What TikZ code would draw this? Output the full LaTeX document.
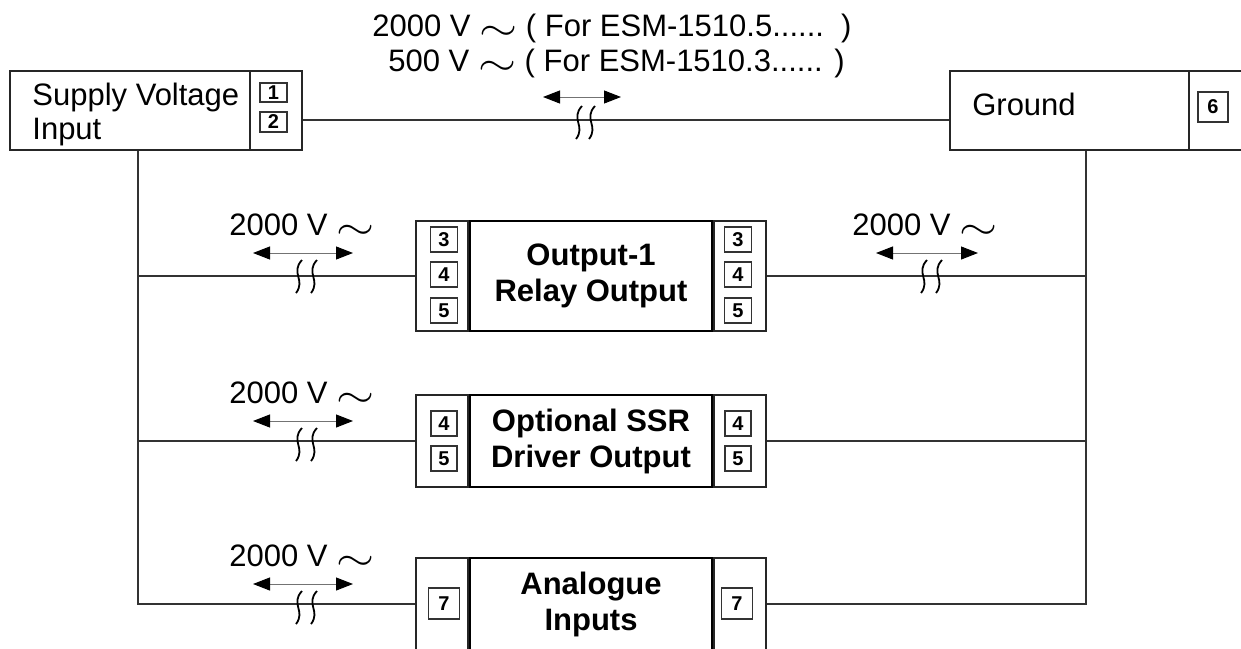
\documentclass[tikz,border=0pt]{standalone}
\usepackage{fontspec}
\setmainfont{Liberation Sans}
\usetikzlibrary{arrows.meta,positioning}

\newcommand\acsign{\raisebox{-2.2pt}{\scalebox{1.7}[1.35]{$\sim$}}}

\tikzset{
  mainbox/.style={draw=black!85, line width=1pt, minimum height=39.5pt, inner sep=0pt},
  termcol/.style={draw=black!85, line width=1pt, minimum width=26pt, inner sep=0pt},
  body/.style={draw, line width=1pt, minimum width=121pt, inner sep=0pt, align=center,
    font=\bfseries\fontsize{15.5pt}{18pt}\selectfont},
  term/.style={draw=black!80, line width=0.6pt, inner sep=0pt,
    font=\bfseries\fontsize{10pt}{10pt}\selectfont},
  wire/.style={draw=black!80, line width=0.75pt},
  iso/.style={{Triangle[length=8.5pt,width=6.5pt,color=black]}-{Triangle[length=8.5pt,width=6.5pt,color=black]},
    draw=black!55, line width=0.5pt},
  wave/.style={line width=0.9pt},
  lbl/.style={font=\fontsize{15.5pt}{17pt}\selectfont, inner sep=0pt},
}

\begin{document}
\begin{tikzpicture}[x=0.5pt, y=-0.5pt]
  \useasboundingbox (0,0) rectangle (1241,648);
  \clip (0,0) rectangle (1241,648);

  % supply and ground
  \node[mainbox, minimum width=120pt, anchor=north west] (supply) at (9,70) {};
  \node[termcol, minimum height=39.5pt, anchor=north west] (supplyt) at (249,70) {};
  \node[lbl, anchor=west, align=left] (supplytxt) at (32,114) {Supply Voltage\\Input};
  \node[term, minimum width=13.5pt, minimum height=9.5pt] (t1) at (273.5,92.5) {1};
  \node[term, minimum width=13.5pt, minimum height=10pt] (t2) at (273.5,122) {2};

  \node[mainbox, minimum width=119.5pt, anchor=north west] (ground) at (949,70) {};
  \node[termcol, minimum width=40pt, minimum height=39.5pt, anchor=north west] (groundt) at (1188,70) {};
  \node[lbl] (groundtxt) at (1024,104) {Ground};
  \node[term, minimum width=15pt, minimum height=15pt] (t6) at (1213,107) {6};

  % the three modules
  \node[body, minimum height=55pt] (out1) at (591,276) {Output-1\\Relay Output};
  \node[termcol, minimum height=55pt, left=0pt of out1] (out1l) {};
  \node[termcol, minimum height=55pt, right=0pt of out1] (out1r) {};
  \foreach \yy/\tn [count=\i] in {239.5/3,274.5/4,310.5/5} {
    \node[term, minimum width=13.5pt, minimum height=12.5pt] (o1l\i) at (444,\yy) {\tn};
    \node[term, minimum width=13.5pt, minimum height=12.5pt] (o1r\i) at (738,\yy) {\tn};
  }

  \node[body, minimum height=46pt] (ssr) at (591,441) {Optional SSR\\Driver Output};
  \node[termcol, minimum height=46pt, left=0pt of ssr] (ssrl) {};
  \node[termcol, minimum height=46pt, right=0pt of ssr] (ssrr) {};
  \foreach \yy/\tn [count=\i] in {423.5/4,458.5/5} {
    \node[term, minimum width=13pt, minimum height=12.5pt] (sl\i) at (444,\yy) {\tn};
    \node[term, minimum width=13pt, minimum height=12.5pt] (sr\i) at (738,\yy) {\tn};
  }

  \node[body, minimum height=46pt] (ana) at (591,604) {Analogue\\Inputs};
  \node[termcol, minimum height=46pt, left=0pt of ana] (anal) {};
  \node[termcol, minimum height=46pt, right=0pt of ana] (anar) {};
  \node[term, minimum width=15.5pt, minimum height=15.5pt] (al1) at (444,603.5) {7};
  \node[term, minimum width=15.5pt, minimum height=15.5pt] (ar1) at (737,603.5) {7};

  % wiring
  \draw[wire] ([yshift=-4.75pt]supplyt.east) -- ([yshift=-4.75pt]ground.west);
  \coordinate (lbus) at ([xshift=4pt]supply.south);
  \coordinate (rbus) at ([xshift=8.25pt]ground.south);
  \draw[wire] (lbus) |- (anal.west);
  \draw[wire] (lbus |- out1l.west) -- (out1l.west);
  \draw[wire] (lbus |- ssrl.west) -- (ssrl.west);
  \draw[wire] (rbus) |- (anar.east);
  \draw[wire] (rbus |- out1r.east) -- (out1r.east);
  \draw[wire] (rbus |- ssrr.east) -- (ssrr.east);

  % isolation marks
  \node[lbl, anchor=base west] (top1) at (372,36) {2000 V \acsign{} ( For ESM-1510.5......\ \ )};
  \node[lbl, anchor=base west] (top2) at (388,71) {500 V \acsign{} ( For ESM-1510.3...... )};
  \coordinate (ta) at (543,97);
  \coordinate (tb) at (621,97);
  \draw[iso] (ta) -- (tb);
  \draw[wave] (582,106) .. controls (570,119) and (586,126) .. (576,139);
  \draw[wave] (595,106) .. controls (583,119) and (599,126) .. (589,139);

  \foreach \yy/\nm in {273/a,441/b,604/c} {
    \node[lbl, anchor=base west] (v\nm) at (229,\yy-38) {2000 V \acsign};
    \coordinate (\nm1) at (253,\yy-20);
    \coordinate (\nm2) at (353,\yy-20);
    \draw[iso] (\nm1) -- (\nm2);
    \draw[wave] (302,\yy-13) .. controls (290,\yy) and (306,\yy+7) .. (296,\yy+20);
    \draw[wave] (317,\yy-13) .. controls (305,\yy) and (321,\yy+7) .. (311,\yy+20);
  }

  \node[lbl, anchor=base west] (vr) at (852,235) {2000 V \acsign};
  \coordinate (ra) at (876,253);
  \coordinate (rb) at (978,253);
  \draw[iso] (ra) -- (rb);
  \draw[wave] (927,260) .. controls (915,273) and (931,280) .. (921,293);
  \draw[wave] (942,260) .. controls (930,273) and (946,280) .. (936,293);
\end{tikzpicture}
\end{document}
